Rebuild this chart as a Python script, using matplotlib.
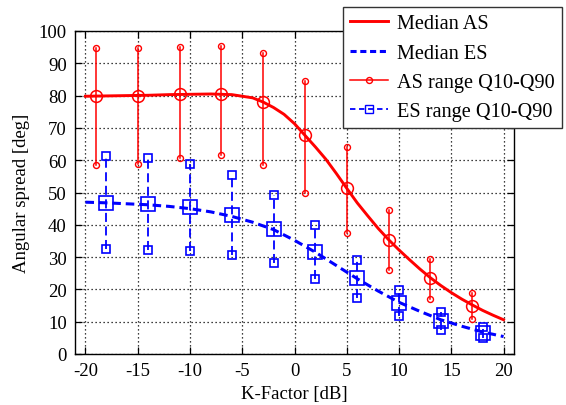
import matplotlib
matplotlib.use("Agg")
import matplotlib.pyplot as plt
from matplotlib.lines import Line2D

# ---- data ----
as_x = [-19, -15, -11, -7, -3, 1, 5, 9, 13, 17]
as_med = [80.0, 80.0, 80.4, 80.4, 77.9, 67.8, 51.3, 35.4, 23.4, 15.0]
as_q10 = [58.5, 58.8, 60.6, 61.5, 58.5, 49.8, 37.6, 26.0, 17.0, 10.8]
as_q90 = [94.6, 94.8, 95.1, 95.5, 93.2, 84.4, 64.1, 44.6, 29.4, 18.9]

es_x = [-18, -14, -10, -6, -2, 2, 6, 10, 14, 18]
es_med = [46.7, 46.4, 45.4, 43.0, 38.7, 31.7, 23.4, 15.8, 10.3, 6.5]
es_q10 = [32.5, 32.3, 31.9, 30.7, 28.3, 23.2, 17.2, 11.7, 7.5, 4.9]
es_q90 = [61.4, 60.8, 58.9, 55.5, 49.2, 39.9, 29.2, 19.9, 13.1, 8.5]

as_curve_x = [-20, -18, -16, -14, -12, -10, -8, -6, -4, -3, -2, -1, 0, 1, 2, 3, 4, 5,
              6, 7, 8, 9, 10, 11, 12, 13, 14, 15, 16, 17, 18, 19, 20]
as_curve_y = [79.8, 79.9, 80.0, 80.1, 80.3, 80.4, 80.5, 80.3, 79.3, 78.0, 76.3,
              74.2, 71.3, 67.7, 64.1, 60.3, 55.9, 51.3, 46.8, 42.8, 38.9, 35.4,
              32.2, 29.2, 26.3, 23.6, 21.2, 19.0, 17.0, 15.2, 13.5, 12.0, 10.6]

es_curve_x = [-20, -18, -16, -14, -12, -10, -8, -6, -4, -2, 0, 2, 4, 6, 8, 10,
              12, 14, 16, 18, 20]
es_curve_y = [47.0, 46.8, 46.5, 46.2, 45.7, 45.0, 44.0, 42.6, 40.8, 38.5, 35.2,
              31.5, 27.4, 23.3, 19.5, 16.0, 13.2, 10.6, 8.6, 6.8, 5.4]

xticks = [-20, -15, -10, -5, 0, 5, 10, 15, 20]
yticks = [0, 10, 20, 30, 40, 50, 60, 70, 80, 90, 100]

# ---- style ----
plt.rcParams['font.family'] = ['Liberation Serif', 'DejaVu Serif']
plt.rcParams['font.size'] = 13.5

RED = '#ff0000'
BLUE = '#0000ff'

fig = plt.figure(figsize=(5.66, 4.06), dpi=100)
ax = fig.add_axes([75 / 566, 1 - 355 / 406, (514 - 75) / 566, (355 - 32) / 406])

ax.set_xlim(-21, 21)
ax.set_ylim(0, 100)
ax.set_xticks(xticks)
ax.set_yticks(yticks)
ax.set_xticklabels([str(t) for t in xticks])
ax.set_yticklabels([str(t) for t in yticks])
ax.tick_params(direction='in', length=5, width=0.9, top=True, right=True,
               labelsize=13.5, pad=6, colors='black')
ax.grid(True, color='black', linestyle=(0, (1, 2.2)), linewidth=0.9)
ax.set_axisbelow(True)
for s in ax.spines.values():
    s.set_linewidth(1.0)

# range lines
for x, lo, hi in zip(as_x, as_q10, as_q90):
    ax.plot([x, x], [lo, hi], color=RED, lw=1.1, marker='o', ms=4.3,
            mfc='none', mec=RED, mew=1.0, zorder=3)
for x, lo, hi in zip(es_x, es_q10, es_q90):
    ax.plot([x, x], [lo, hi], color=BLUE, lw=1.3, linestyle=(0, (5, 2.5)),
            marker='s', ms=5.5, mfc='none', mec=BLUE, mew=1.2, zorder=3)

# median curves
ax.plot(as_curve_x, as_curve_y, color=RED, lw=2.1, zorder=4,
        solid_joinstyle='round')
ax.plot(es_curve_x, es_curve_y, color=BLUE, lw=2.2, linestyle=(0, (2.8, 1.6)),
        zorder=4)

# median markers
ax.plot(as_x, as_med, linestyle='none', marker='o', ms=8.5, mfc='none',
        mec=RED, mew=1.1, zorder=5)
ax.plot(es_x, es_med, linestyle='none', marker='s', ms=10.5, mfc='none',
        mec=BLUE, mew=1.2, zorder=5)

ax.set_xlabel('K-Factor [dB]', fontsize=13.5, labelpad=4)
ax.set_ylabel('Angular spread [deg]', fontsize=13.5, labelpad=6)

handles = [
    Line2D([], [], color=RED, lw=2.1),
    Line2D([], [], color=BLUE, lw=2.2, linestyle=(0, (2.0, 1.2))),
    Line2D([], [], color=RED, lw=1.1, marker='o', ms=4.3, mfc='none', mec=RED),
    Line2D([], [], color=BLUE, lw=1.3, linestyle=(0, (3, 2)), marker='s', ms=5.5,
           mfc='none', mec=BLUE),
]
labels = ['Median AS', 'Median ES', 'AS range Q10-Q90', 'ES range Q10-Q90']
leg = fig.legend(handles, labels, loc='upper right',
                 bbox_to_anchor=(562 / 566, 1 - 8 / 406),
                 bbox_transform=fig.transFigure, borderaxespad=0,
                 fancybox=False, framealpha=1, edgecolor='#333333',
                 fontsize=14.6, handlelength=1.9, handletextpad=0.45,
                 labelspacing=0.5, borderpad=0.35, numpoints=1)
leg.get_frame().set_linewidth(1.0)

fig.savefig('out.png', dpi=100)
